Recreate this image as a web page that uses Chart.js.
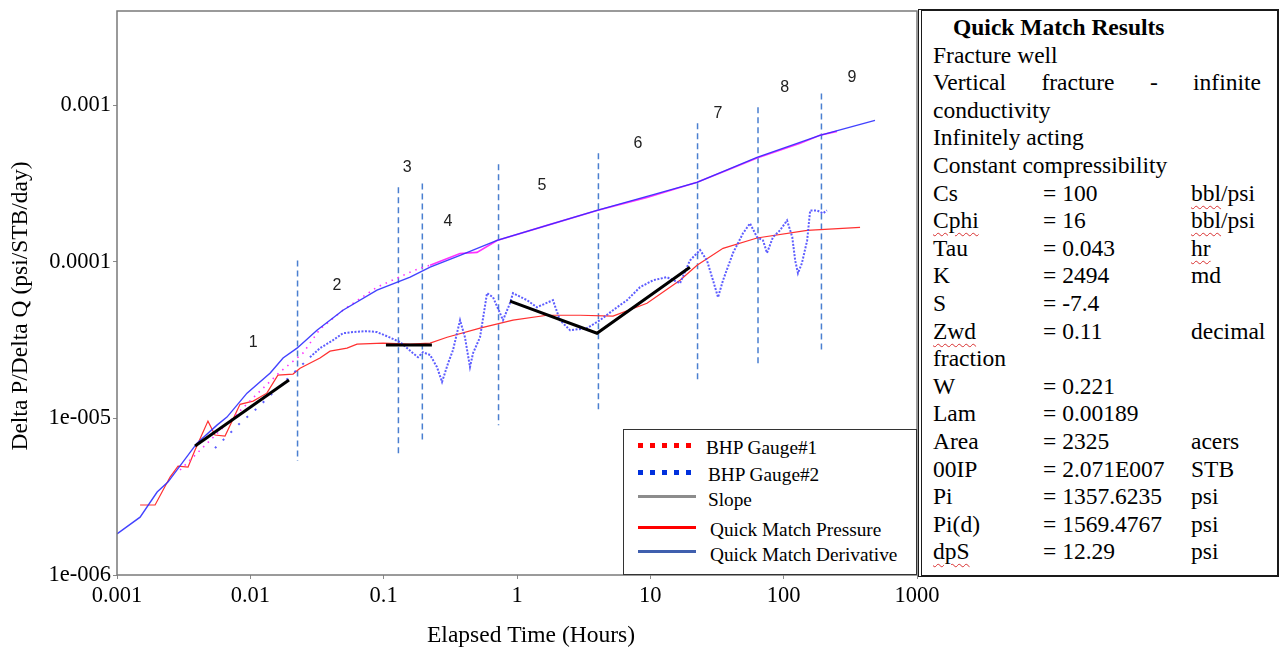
<!DOCTYPE html>
<html>
<head>
<meta charset="utf-8">
<script src="https://cdn.jsdelivr.net/npm/chart.js@4.4.0/dist/chart.umd.min.js"></script>
<style>
  body { margin: 0; background: #fff; }
  #page { position: relative; width: 1279px; height: 650px; overflow: hidden; font-family: 'Liberation Serif', 'Times New Roman', serif; color: #000; }
  #plot { position: absolute; left: 0; top: -20px; width: 950px; height: 670px; }
  #legend { position: absolute; left: 623px; top: 429px; width: 294px; height: 146px; box-sizing: border-box; border: 1.5px solid #333; background: #fff; }
  #legend .sw { position: absolute; left: 14px; width: 58px; }
  #legend .lb { position: absolute; font-size: 19.3px; line-height: 22px; white-space: nowrap; }
  #results { position: absolute; left: 918px; top: 9px; width: 361px; height: 568px; box-sizing: border-box; border: 2px solid #1a1a1a; border-left: 4px double #1a1a1a; background: #fff; padding: 3px 0 0 11px; font-size: 23.5px; }
  #results .row { position: relative; height: 27.6px; line-height: 27.6px; white-space: nowrap; }
  #results .c2 { position: absolute; left: 110px; }
  #results .c3 { position: absolute; left: 258px; }
  .wavy { text-decoration: underline wavy #d83030; text-decoration-thickness: 1px; text-underline-offset: 4px; }
</style>
</head>
<body>
<div id="page">
  <div id="plot"><canvas id="grafico"></canvas></div>

  <div id="legend">
    <div class="sw" style="top:13px;height:5px;background:repeating-linear-gradient(to right,#ff0000 0 5px,transparent 5px 12px);"></div>
    <div class="lb" style="left:82px;top:7px;">BHP Gauge#1</div>
    <div class="sw" style="top:40px;height:5px;background:repeating-linear-gradient(to right,#0030dd 0 5px,transparent 5px 12px);"></div>
    <div class="lb" style="left:84px;top:34px;">BHP Gauge#2</div>
    <div class="sw" style="top:65px;height:3px;background:#8c8c8c;"></div>
    <div class="lb" style="left:84px;top:59px;">Slope</div>
    <div class="sw" style="top:96px;height:3px;background:#ff0000;"></div>
    <div class="lb" style="left:86px;top:89px;">Quick Match Pressure</div>
    <div class="sw" style="top:120px;height:3px;background:#3f5fae;"></div>
    <div class="lb" style="left:86px;top:114px;">Quick Match Derivative</div>
  </div>

  <div id="results">
    <div class="row" style="font-weight:bold;padding-left:20px;">Quick Match Results</div>
    <div class="row">Fracture well</div>
    <div class="row" style="display:flex;justify-content:space-between;width:328px;"><span>Vertical</span><span>fracture</span><span>-</span><span>infinite</span></div>
    <div class="row">conductivity</div>
    <div class="row">Infinitely acting</div>
    <div class="row">Constant compressibility</div>
    <div class="row">Cs<span class="c2">= 100</span><span class="c3"><span class="wavy">bbl</span>/psi</span></div>
    <div class="row"><span class="wavy">Cphi</span><span class="c2">= 16</span><span class="c3"><span class="wavy">bbl</span>/psi</span></div>
    <div class="row">Tau<span class="c2">= 0.043</span><span class="c3"><span class="wavy">hr</span></span></div>
    <div class="row">K<span class="c2">= 2494</span><span class="c3">md</span></div>
    <div class="row">S<span class="c2">= -7.4</span></div>
    <div class="row"><span class="wavy">Zwd</span><span class="c2">= 0.11</span><span class="c3">decimal</span></div>
    <div class="row">fraction</div>
    <div class="row">W<span class="c2">= 0.221</span></div>
    <div class="row">Lam<span class="c2">= 0.00189</span></div>
    <div class="row">Area<span class="c2">= 2325</span><span class="c3">acers</span></div>
    <div class="row">00IP<span class="c2">= 2.071E007</span><span class="c3">STB</span></div>
    <div class="row">Pi<span class="c2">= 1357.6235</span><span class="c3">psi</span></div>
    <div class="row">Pi(d)<span class="c2">= 1569.4767</span><span class="c3">psi</span></div>
    <div class="row"><span class="wavy">dpS</span><span class="c2">= 12.29</span><span class="c3">psi</span></div>
  </div>
</div>

<script>
// eixos
const xTickValues = [0.001, 0.01, 0.1, 1, 10, 100, 1000];
const xTickLabels = ['0.001', '0.01', '0.1', '1', '10', '100', '1000'];
const yTickValues = [1e-6, 1e-5, 1e-4, 1e-3];
const yTickLabels = ['1e-006', '1e-005', '0.0001', '0.001'];

// Quick Match Derivative
const derivTime = [0.001, 0.00149, 0.0020, 0.00241, 0.00398, 0.00562, 0.00668, 0.00944, 0.0141, 0.0176, 0.0224, 0.0316, 0.0495, 0.0891, 0.158, 0.223, 0.374, 0.708, 3.98, 22.4, 63.1, 187, 484];
const derivValue = [1.83e-6, 2.34e-6, 3.39e-6, 3.92e-6, 6.95e-6, 9.06e-6, 1.02e-5, 1.45e-5, 1.95e-5, 2.43e-5, 2.81e-5, 3.66e-5, 4.91e-5, 6.59e-5, 7.98e-5, 9.25e-5, 1.10e-4, 1.37e-4, 2.13e-4, 3.22e-4, 4.65e-4, 6.43e-4, 8.01e-4];

// BHP Gauge#1
const gauge1Time = [0.00297, 0.0114, 0.0167, 0.0248, 0.0333, 0.0495, 0.0891, 0.158, 0.187, 0.223, 0.374, 0.501, 0.708, 1.68, 3.98, 9.44, 22.4, 37.6, 63.1, 133, 187, 251];
const gauge1Value = [4.68e-6, 1.45e-5, 1.98e-5, 2.61e-5, 3.72e-5, 4.91e-5, 6.89e-5, 8.59e-5, 9.1e-5, 9.51e-5, 1.13e-4, 1.15e-4, 1.37e-4, 1.71e-4, 2.13e-4, 2.58e-4, 3.22e-4, 3.84e-4, 4.6e-4, 5.71e-4, 6.43e-4, 6.81e-4];

// BHP Gauge#2
const gauge2Time = [0.00543, 0.00837, 0.0112, 0.0280, 0.0333, 0.0417, 0.0495, 0.0589, 0.0750, 0.0891, 0.106, 0.133, 0.166, 0.181, 0.197, 0.223, 0.251, 0.274, 0.304, 0.331, 0.374, 0.407, 0.444, 0.468, 0.528, 0.596, 0.661, 0.746, 0.785, 0.886, 0.933, 1.19, 1.41, 1.86, 2.10, 2.50, 3.35, 4.19, 5.25, 6.68, 8.37, 10.5, 13.3, 16.7, 19.8, 23.6, 26.6, 29.5, 32.2, 35.1, 41.7, 49.5, 55.9, 63.1, 70.0, 75.0, 83.2, 93.9, 106, 116, 122, 128, 137, 150, 158, 178, 197, 211];
const gauge2Value = [6.46e-6, 9.33e-6, 1.16e-5, 2.46e-5, 2.81e-5, 3.16e-5, 3.50e-5, 3.56e-5, 3.61e-5, 3.56e-5, 3.35e-5, 3.07e-5, 2.61e-5, 2.46e-5, 2.65e-5, 2.54e-5, 2.13e-5, 1.71e-5, 2.25e-5, 2.73e-5, 4.24e-5, 3.30e-5, 2.13e-5, 2.61e-5, 3.30e-5, 6.31e-5, 5.94e-5, 4.70e-5, 4.24e-5, 5.44e-5, 6.31e-5, 5.69e-5, 5.13e-5, 5.69e-5, 4.24e-5, 3.66e-5, 3.77e-5, 4.24e-5, 4.91e-5, 5.69e-5, 6.89e-5, 7.63e-5, 7.98e-5, 7.30e-5, 1.02e-4, 1.19e-4, 1.02e-4, 7.63e-5, 5.94e-5, 7.63e-5, 1.14e-4, 1.52e-4, 1.76e-4, 1.44e-4, 1.37e-4, 1.14e-4, 1.44e-4, 1.59e-4, 1.84e-4, 1.44e-4, 1.02e-4, 8.46e-5, 9.80e-5, 1.37e-4, 2.13e-4, 2.13e-4, 2.04e-4, 2.13e-4];

// Quick Match Pressure
const pressTime = [0.00149, 0.00193, 0.0025, 0.00287, 0.00341, 0.00385, 0.00481, 0.00543, 0.00646, 0.00837, 0.0105, 0.0133, 0.0161, 0.0209, 0.0236, 0.0333, 0.0396, 0.0531, 0.0631, 0.0989, 0.158, 0.223, 0.299, 0.528, 0.933, 1.68, 2.97, 5.25, 9.44, 16.7, 22.4, 35.1, 63.1, 150, 374];
const pressValue = [2.80e-6, 2.80e-6, 4.22e-6, 4.96e-6, 4.89e-6, 6.28e-6, 9.61e-6, 7.83e-6, 7.71e-6, 1.23e-5, 1.29e-5, 1.45e-5, 1.89e-5, 1.92e-5, 2.09e-5, 2.43e-5, 2.69e-5, 2.81e-5, 2.98e-5, 3.03e-5, 2.98e-5, 3.03e-5, 3.30e-5, 3.77e-5, 4.24e-5, 4.56e-5, 4.56e-5, 4.50e-5, 5.44e-5, 7.63e-5, 9.51e-5, 1.22e-4, 1.42e-4, 1.59e-4, 1.66e-4];

// retas de inclinação (Slope)
const slopeTime = [[0.00385, 0.0195], [0.104, 0.230], [0.886, 3.98, 19.8]];
const slopeValue = [[6.66e-6, 1.76e-5], [2.94e-5, 2.94e-5], [5.61e-5, 3.50e-5, 9.24e-5]];

// limites dos períodos (linhas tracejadas)
const boundTime = [0.0226, 0.129, 0.195, 0.727, 4.08, 22.6, 64.2, 192];
const boundTop = [1.02e-4, 2.99e-4, 3.17e-4, 4.20e-4, 4.93e-4, 7.67e-4, 9.70e-4, 1.19e-3];
const boundBottom = [5.34e-6, 6.0e-6, 6.95e-6, 9.06e-6, 1.08e-5, 1.68e-5, 2.13e-5, 2.61e-5];

// números dos períodos
const periodLabels = ['1', '2', '3', '4', '5', '6', '7', '8', '9'];
const periodTime = [0.0105, 0.0447, 0.150, 0.304, 1.54, 8.08, 32.2, 102, 325];
const periodValue = [3.03e-5, 7.09e-5, 4.02e-4, 1.82e-4, 3.08e-4, 5.71e-4, 8.88e-4, 1.30e-3, 1.51e-3];

const pontos = (xs, ys) => xs.map((x, i) => ({ x: x, y: ys[i] }));
const fonteSerif = "'Liberation Serif', 'Times New Roman', serif";

const datasets = [];

slopeTime.forEach((t, i) => {
  datasets.push({ data: pontos(t, slopeValue[i]), borderColor: '#000', borderWidth: 3, order: 1 });
});
datasets.push({ data: pontos(derivTime, derivValue), borderColor: 'rgba(45,45,255,0.9)', borderWidth: 1.4, order: 2 });
datasets.push({
  data: pontos(gauge1Time, gauge1Value), borderColor: '#ff30ff', borderWidth: 1.6, order: 3,
  segment: { borderDash: ctx => ctx.p1.parsed.x < 0.3 ? [1.5, 5] : undefined }
});
datasets.push({
  data: pontos(gauge2Time, gauge2Value), borderColor: 'rgba(75,75,255,0.9)', borderWidth: 2, borderDash: [2, 1.5], order: 4,
  segment: { borderDash: ctx => ctx.p1.parsed.x < 0.03 ? [2, 9] : undefined }
});
datasets.push({ data: pontos(pressTime, pressValue), borderColor: '#ff3030', borderWidth: 1.2, order: 5 });
boundTime.forEach((t, i) => {
  datasets.push({
    data: [{ x: t, y: boundTop[i] }, { x: t, y: boundBottom[i] }],
    borderColor: '#4a7fd0', borderWidth: 1.5, borderDash: [6, 4], order: 6
  });
});

const decoracao = {
  id: 'decoracao',
  afterDatasetsDraw(chart) {
    const { ctx, chartArea: a, scales: { x, y } } = chart;
    ctx.save();
    ctx.font = "16px 'Liberation Sans', Arial, sans-serif";
    ctx.fillStyle = '#222';
    ctx.textAlign = 'center';
    ctx.textBaseline = 'middle';
    periodLabels.forEach((t, i) => {
      ctx.fillText(t, x.getPixelForValue(periodTime[i]), y.getPixelForValue(periodValue[i]));
    });
    ctx.strokeStyle = '#7a7a7a';
    ctx.lineWidth = 1.5;
    ctx.strokeRect(a.left, a.top, a.right - a.left, a.bottom - a.top);
    ctx.fillStyle = '#000';
    ctx.font = '23.5px ' + fonteSerif;
    ctx.fillText('Elapsed Time (Hours)', (a.left + a.right) / 2 + 14, a.bottom + 61);
    ctx.translate(21, (a.top + a.bottom) / 2 + 13);
    ctx.rotate(-Math.PI / 2);
    ctx.fillText('Delta P/Delta Q (psi/STB/day)', 0, 0);
    ctx.restore();
  }
};

new Chart(document.getElementById('grafico'), {
  type: 'line',
  data: { datasets: datasets },
  plugins: [decoracao],
  options: {
    responsive: true,
    maintainAspectRatio: false,
    animation: false,
    elements: { point: { radius: 0 }, line: { tension: 0 } },
    layout: { padding: { top: 31, right: 33, left: 0, bottom: 0 } },
    plugins: { legend: { display: false }, tooltip: { enabled: false } },
    scales: {
      x: {
        type: 'logarithmic', min: 0.001, max: 1000,
        afterBuildTicks: s => { s.ticks = xTickValues.map(v => ({ value: v })); },
        afterFit: s => { s.height = 75; },
        grid: { drawOnChartArea: false, tickLength: 4, color: '#8a8a8a' },
        border: { display: false },
        ticks: {
          autoSkip: false, maxRotation: 0, padding: 4, color: '#000',
          font: { family: fonteSerif, size: 22.5 },
          callback: (v, i) => xTickLabels[i]
        }
      },
      y: {
        type: 'logarithmic', min: 1e-6, max: 0.004,
        afterBuildTicks: s => { s.ticks = yTickValues.map(v => ({ value: v })); },
        afterFit: s => { s.width = 117; },
        grid: { drawOnChartArea: false, tickLength: 4, color: '#8a8a8a' },
        border: { display: false },
        ticks: {
          autoSkip: false, padding: 2, color: '#000',
          font: { family: fonteSerif, size: 22.5 },
          callback: (v, i) => yTickLabels[i]
        }
      }
    }
  }
});
</script>
</body>
</html>
